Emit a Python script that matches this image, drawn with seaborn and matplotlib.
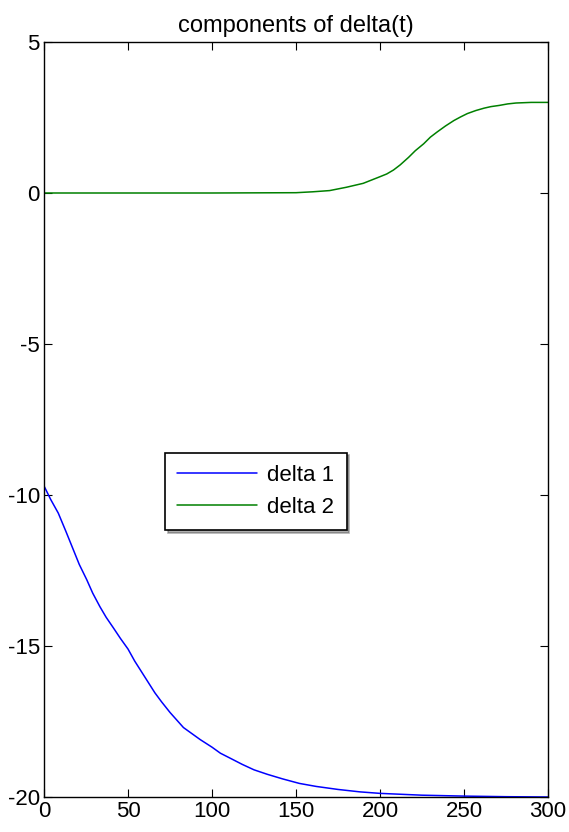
"""components of delta(t) — MATLAB-style line chart redrawn with seaborn."""

import matplotlib
import pandas as pd
import seaborn as sns

matplotlib.use("Agg")
import matplotlib.pyplot as plt

# ── Data ─────────────────────────────────────────────────────────────────────
DELTA1_T = [0, 4, 8.5, 13, 17, 21, 25.4, 29, 33.3, 37, 41.3, 45.5, 50, 54,
            58, 62, 66, 70, 75, 79, 83, 88, 93, 100, 105, 111, 118, 125,
            133, 142, 152, 162, 175, 188, 200, 225, 250, 275, 300]
DELTA1_V = [-9.7, -10.15, -10.6, -11.2, -11.75, -12.3, -12.8, -13.25,
            -13.7, -14.05, -14.4, -14.75, -15.1, -15.5, -15.85, -16.2,
            -16.55, -16.85, -17.2, -17.45, -17.7, -17.9, -18.1, -18.35,
            -18.55, -18.72, -18.92, -19.1, -19.25, -19.4, -19.55, -19.65,
            -19.75, -19.83, -19.88, -19.94, -19.97, -19.99, -20.0]

DELTA2_T = [0, 100, 150, 160, 170, 180, 190, 200, 204, 208, 212, 217, 221,
            226, 230, 234, 239, 244, 248, 252, 257, 262, 266, 271, 276,
            281, 290, 300]
DELTA2_V = [0.0, 0.0, 0.01, 0.04, 0.08, 0.19, 0.32, 0.54, 0.63, 0.76, 0.93,
            1.18, 1.4, 1.63, 1.85, 2.02, 2.22, 2.4, 2.52, 2.63, 2.73, 2.81,
            2.86, 2.9, 2.95, 2.98, 3.0, 3.0]

SERIES_NAMES = ["delta 1", "delta 2"]
COLORS = ["#0000ff", "#008000"]
X_TICKS = [0, 50, 100, 150, 200, 250, 300]
Y_TICKS = [-20, -15, -10, -5, 0, 5]
TITLE = "components of delta(t)"


def build_frame() -> pd.DataFrame:
    d1 = pd.DataFrame({"t": DELTA1_T, "value": DELTA1_V, "series": SERIES_NAMES[0]})
    d2 = pd.DataFrame({"t": DELTA2_T, "value": DELTA2_V, "series": SERIES_NAMES[1]})
    return pd.concat([d1, d2], ignore_index=True)


def main() -> None:
    sns.set_theme(style="white")
    plt.rcParams["font.family"] = ["Liberation Sans", "DejaVu Sans"]
    plt.rcParams["axes.unicode_minus"] = False
    plt.rcParams["text.color"] = "black"

    df = build_frame()

    fig = plt.figure(figsize=(5.69, 8.32), dpi=100)
    ax = fig.add_axes([44 / 569, 35 / 832, 504 / 569, 755 / 832])

    sns.lineplot(
        data=df, x="t", y="value", hue="series",
        palette=dict(zip(SERIES_NAMES, COLORS)),
        linewidth=1.1, ax=ax, legend=True,
    )

    ax.set_xlim(0, 300)
    ax.set_ylim(-20, 5)
    ax.set_xticks(X_TICKS)
    ax.set_yticks(Y_TICKS)
    ax.set_xlabel("")
    ax.set_ylabel("")
    ax.set_title(TITLE, fontsize=17, pad=7, color="black")

    for spine in ax.spines.values():
        spine.set_visible(True)
        spine.set_color("black")
        spine.set_linewidth(1.0)
    ax.tick_params(
        axis="both", which="both", direction="in", length=6, width=0.8,
        top=True, right=True, bottom=True, left=True,
        labelsize=16, colors="black", pad=3,
    )

    handles, labels = ax.get_legend_handles_labels()
    leg = ax.legend(
        handles, labels, loc="upper left",
        bbox_to_anchor=(0.24, 0.456), fontsize=16,
        frameon=True, fancybox=False, shadow={"alpha": 0.45},
        framealpha=1, edgecolor="black", handlelength=3.6,
        handletextpad=0.45, borderpad=0.55, labelspacing=0.5,
        borderaxespad=0,
    )
    leg.get_frame().set_linewidth(1.2)
    for text in leg.get_texts():
        text.set_color("black")

    fig.savefig("out.png", dpi=100, facecolor="white")
    plt.close(fig)


if __name__ == "__main__":
    main()
